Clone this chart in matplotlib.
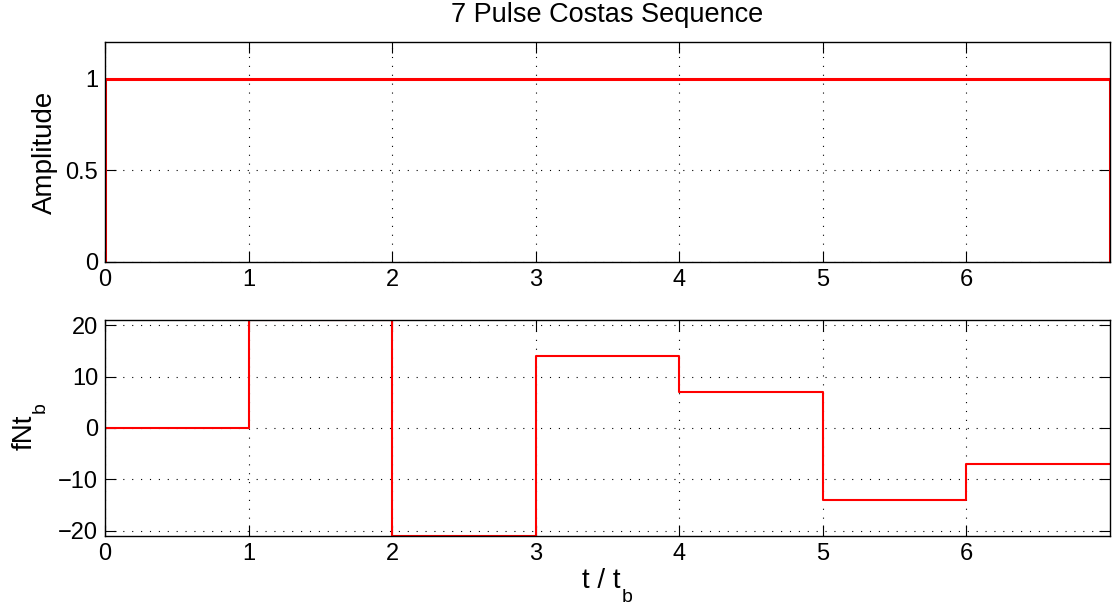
import numpy as np
import matplotlib
matplotlib.use("Agg")
import matplotlib.pyplot as plt

plt.rcParams['font.family'] = ['Liberation Sans', 'DejaVu Sans']
plt.rcParams['font.size'] = 17

# pulse data
pulse_edges = [0, 1, 2, 3, 4, 5, 6, 7]
amplitude = [1, 1, 1, 1, 1, 1, 1]
freq_index = [0, 21, -21, 14, 7, -14, -7]

W, H = 1116, 609
fig = plt.figure(figsize=(W / 100, H / 100), dpi=100)
ax1 = fig.add_axes([105/W, 1 - 262/H, 1005/W, 220/H])
ax2 = fig.add_axes([105/W, 1 - 536/H, 1005/W, 216/H])

# amplitude envelope: rise at start, flat, drop at end
xa = [pulse_edges[0]] + pulse_edges + [pulse_edges[-1]]
ya = [0] + amplitude + [amplitude[-1], 0]
ya = ya[:len(xa)]
ax1.plot(xa, ya, color='red', lw=2.2, drawstyle='steps-post')

ax2.plot(pulse_edges, freq_index + [freq_index[-1]], color='red', lw=1.5,
         drawstyle='steps-post')

ax1.set_xlim(0, 7)
ax1.set_ylim(0, 1.2)
ax1.set_xticks(range(7))
ax1.set_yticks([0, 0.5, 1])
ax1.set_yticklabels(['0', '0.5', '1'])
ax1.set_ylabel('Amplitude', fontsize=20, labelpad=5.5)
ax1.set_title('7 Pulse Costas Sequence', fontsize=19.5, pad=14.4)

ax2.set_xlim(0, 7)
ax2.set_ylim(-21, 21)
ax2.set_xticks(range(7))
ax2.set_yticks([-20, -10, 0, 10, 20])
ax2.set_yticklabels(['\u221220', '\u221210', '0', '10', '20'])

# labels with MATLAB-style subscripts (main text + lowered 'b')
fig.text(621/W, 1 - 588/H, 't / t', fontsize=20, ha='right', va='baseline')
fig.text(622/W, 1 - 602/H, 'b', fontsize=14, ha='left', va='baseline')
fig.text(32/W, 1 - 450/H, 'fNt', fontsize=20, ha='left', va='baseline',
         rotation=90, rotation_mode='anchor')
fig.text(45/W, 1 - 413/H, 'b', fontsize=14, ha='left', va='baseline',
         rotation=90, rotation_mode='anchor')

for ax in (ax1, ax2):
    ax.grid(True, color='black', linestyle=(0, (1, 7)), linewidth=0.8)
    ax.tick_params(direction='in', top=True, right=True, length=8, width=0.8, pad=5)
    for s in ax.spines.values():
        s.set_linewidth(1.0)

fig.savefig('out.png', dpi=100)
